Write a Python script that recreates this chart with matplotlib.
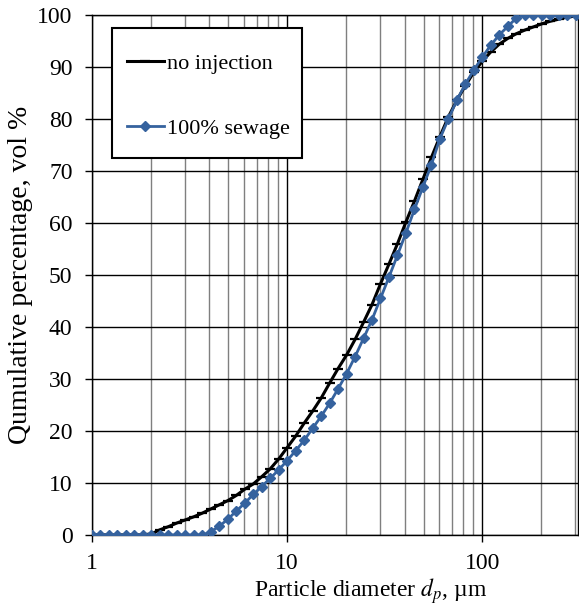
import numpy as np
import matplotlib
matplotlib.use('Agg')
import matplotlib.pyplot as plt
from matplotlib.patches import Rectangle
from matplotlib.ticker import LogLocator, NullFormatter, FixedLocator, FixedFormatter

# Partikelgroessen (Klassengrenzen), um
diameter = [1.000, 1.105, 1.222, 1.350, 1.492, 1.650, 1.823, 2.015, 2.228, 2.462,
            2.721, 3.008, 3.324, 3.674, 4.061, 4.488, 4.960, 5.483, 6.060, 6.698,
            7.404, 8.182, 9.044, 10.00, 11.05, 12.22, 13.50, 14.92, 16.50, 18.23,
            20.15, 22.28, 24.62, 27.21, 30.08, 33.24, 36.74, 40.61, 44.88, 49.60,
            54.83, 60.60, 66.98, 74.04, 81.82, 90.44, 100.0, 110.5, 122.2, 135.0,
            149.2, 165.0, 182.3, 201.5, 222.8, 246.2, 272.1, 300.8]

# Summenverteilung ohne Eindüsung, vol %
no_injection = [0, 0, 0, 0, 0, 0, 0, 0.2, 1.0, 1.6,
                2.3, 2.9, 3.5, 4.2, 5.0, 5.8, 6.6, 7.6, 8.8, 9.8,
                11.2, 12.7, 14.6, 16.8, 19.0, 21.5, 23.8, 26.3, 29.2, 32.0,
                34.6, 37.6, 40.9, 44.3, 48.3, 52.1, 56.0, 60.2, 64.2, 68.4,
                72.6, 76.6, 80.4, 83.6, 86.4, 89.0, 91.1, 92.9, 94.4, 95.5,
                96.4, 97.1, 97.7, 98.3, 98.8, 99.2, 99.6, 99.8]

# Summenverteilung 100% Klaerschlamm, vol %
sewage = [0, 0, 0, 0, 0, 0, 0, 0, 0, 0,
          0, 0, 0, 0, 0.6, 1.7, 3.0, 4.6, 6.1, 7.8,
          9.3, 10.9, 12.5, 14.3, 16.2, 18.2, 20.5, 22.8, 25.3, 28.1,
          31.0, 34.3, 37.8, 41.4, 45.5, 49.6, 53.8, 58.1, 62.6, 66.9,
          71.2, 76.2, 80.0, 83.6, 86.7, 89.4, 91.9, 94.2, 96.2, 97.8,
          99.4, 100, 100, 100, 100, 100, 100, 100]

x_ticks = [1, 10, 100]
x_ticklabels = ['1', '10', '100']
y_ticks = list(range(0, 101, 10))

plt.rcParams['font.family'] = ['Liberation Serif', 'DejaVu Serif']
plt.rcParams['mathtext.fontset'] = 'stix'

fig = plt.figure(figsize=(5.79, 6.06), dpi=100)
ax = fig.add_axes([0.1589, 0.1172, 0.8402, 0.858])

blue = '#35629e'
ax.plot(diameter, no_injection, color='black', lw=2.2, marker='_', ms=7, mew=1.6,
        label='no injection', zorder=3)
ax.plot(diameter, sewage, color=blue, lw=2.0, marker='D', ms=5.5, mfc=blue, mec=blue,
        label='100% sewage', zorder=4)

ax.set_xscale('log')
ax.set_xlim(1, 311)
ax.set_ylim(0, 100)

ax.xaxis.set_major_locator(FixedLocator(x_ticks))
ax.xaxis.set_major_formatter(FixedFormatter(x_ticklabels))
ax.xaxis.set_minor_locator(LogLocator(base=10, subs=np.arange(2, 10), numticks=20))
ax.xaxis.set_minor_formatter(NullFormatter())
ax.set_yticks(y_ticks)

ax.grid(which='major', color='black', lw=1.0)
ax.grid(which='minor', axis='x', color='#7f7f7f', lw=1.0)
ax.set_axisbelow(True)

ax.tick_params(which='major', direction='out', length=5, width=1, labelsize=17)
ax.tick_params(axis='x', pad=8)
ax.tick_params(axis='y', pad=9)
ax.tick_params(which='minor', length=0)
for s in ax.spines.values():
    s.set_linewidth(1.0)
    s.set_color('black')

ax.set_xlabel('Particle diameter $d_p$, \u00b5m', fontsize=17)
ax.xaxis.set_label_coords(0.572, -0.080)
ax.set_ylabel('Qumulative percentage, vol %', fontsize=20, labelpad=3)

# Legendenrahmen separat (Excel-Optik), Legende selbst ohne Rahmen
box = Rectangle((0.041, 0.725), 0.391, 0.25, transform=ax.transAxes,
                facecolor='white', edgecolor='black', lw=1.5, zorder=5)
ax.add_patch(box)

leg = ax.legend(loc='upper left', bbox_to_anchor=(0.071, 0.926), fontsize=16,
                numpoints=1, frameon=False, borderpad=0, labelspacing=2.0,
                handlelength=1.7, handletextpad=0.1, borderaxespad=0)
leg.set_zorder(6)

fig.savefig('out.png', dpi=100)
